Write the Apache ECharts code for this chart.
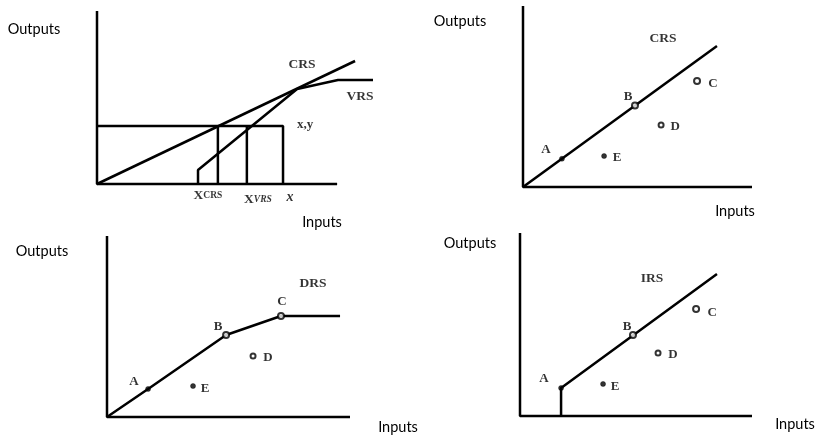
<!DOCTYPE html>
<html>
<head>
<meta charset="utf-8">
<script src="https://cdn.jsdelivr.net/npm/echarts@6/dist/echarts.min.js"></script>
<style>
html,body{margin:0;padding:0;background:#fff;}
#chart{width:815px;height:436px;}
</style>
</head>
<body>
<div id="chart"></div>
<script>
// ---------- Panel 1: CRS vs VRS (input-oriented) ----------
const p1AxisLines = [[0, 100], [0, 0], [87, 0]];
const p1CRS = [[0, 0], [93.5, 71.1]];
const p1VRS = [[36.6, 0], [36.6, 8.1], [72.5, 54.9], [87.3, 60.1], [100, 60.1]];
const p1Box = [[0, 33.5], [67.4, 33.5], [67.4, 0]];
const p1XcrsLine = [[43.8, 0], [43.8, 33.5]];
const p1XvrsLine = [[54.3, 0], [54.3, 33.5]];
const p1Labels = [
  { name: 'CRS', value: [74.3, 68.8] },
  { name: 'VRS', value: [95.3, 50.3] },
  { name: 'x,y', value: [75.4, 34.1] },
  { name: 'XCRS', value: [40.2, -6.6] },
  { name: 'XVRS', value: [58.3, -9.2] },
  { name: 'x', value: [69.9, -7.5] }
];

// ---------- Panel 2: CRS frontier ----------
const p2AxisLines = [[0, 100], [0, 0], [100, 0]];
const p2Frontier = [[0, 0], [84.7, 77.9]];
const p2Points = [['A', 17.0, 15.6], ['B', 48.9, 45.0], ['C', 76.0, 58.6], ['D', 60.3, 34.3], ['E', 35.4, 17.1]];
const p2Title = { name: 'CRS', value: [61.1, 81.8] };

// ---------- Panel 3: DRS frontier ----------
const p3AxisLines = [[0, 100], [0, 0], [100, 0]];
const p3Frontier = [[0, 0], [16.9, 15.5], [49.0, 45.3], [71.6, 55.8], [95.9, 55.8]];
const p3Points = [['A', 16.9, 15.5], ['B', 49.0, 45.3], ['C', 71.6, 55.8], ['D', 60.1, 33.7], ['E', 35.4, 17.1]];
const p3Title = { name: 'DRS', value: [84.8, 74.0] };

// ---------- Panel 4: IRS frontier ----------
const p4AxisLines = [[0, 100], [0, 0], [100, 0]];
const p4Frontier = [[17.7, 0], [17.7, 15.3], [84.9, 77.6]];
const p4Points = [['A', 17.7, 15.3], ['B', 48.7, 44.3], ['C', 75.9, 58.5], ['D', 59.5, 34.4], ['E', 35.8, 17.5]];
const p4Title = { name: 'IRS', value: [56.9, 75.4] };

const axisTitleY = 'Outputs';
const axisTitleX = 'Inputs';

// ---------- styles ----------
const SERIF = "'Liberation Serif', 'DejaVu Serif', serif";
const SANS = "Lato, 'Liberation Sans', sans-serif";
const lineStyle = { color: '#000', width: 2.5 };

const grids = [
  { left: 97, top: 11, width: 276, height: 173 },
  { left: 523, top: 6, width: 229, height: 181 },
  { left: 107, top: 236, width: 243, height: 181 },
  { left: 520, top: 233, width: 232, height: 183 }
];

const xAxes = grids.map((g, i) => ({ type: 'value', gridIndex: i, min: 0, max: 100, show: false }));
const yAxes = grids.map((g, i) => ({ type: 'value', gridIndex: i, min: 0, max: 100, show: false }));

function lineSeries(idx, data) {
  return {
    type: 'line', xAxisIndex: idx, yAxisIndex: idx, data: data,
    symbol: 'none', lineStyle: lineStyle, silent: true, animation: false, clip: false, z: 2
  };
}

function textSeries(idx, items, rich) {
  return {
    type: 'scatter', xAxisIndex: idx, yAxisIndex: idx, symbolSize: 0, clip: false, animation: false, silent: true,
    data: items.map(it => ({ name: it.name, value: it.value })),
    label: {
      show: true, position: 'inside', color: '#000',
      fontFamily: SERIF, fontWeight: 'bold', fontSize: 13.5,
      formatter: p => p.name,
      rich: rich || {}
    }
  };
}

const labelOffsets = {
  1: { A: [-16, -9], B: [-7, -9], C: [16, 3], D: [14, 2], E: [13, 2] },
  2: { A: [-14, -7], B: [-8, -8], C: [1, -14], D: [15, 2], E: [12, 3] },
  3: { A: [-17, -9], B: [-6, -8], C: [16, 4], D: [15, 2], E: [12, 3] }
};
const ringPoints = { B: true, C: true, D: true };

function pointSeries(idx, pts) {
  return {
    type: 'scatter', xAxisIndex: idx, yAxisIndex: idx, animation: false, silent: true, z: 5,
    data: pts.map(p => ({
      name: p[0], value: [p[1], p[2]],
      symbolSize: p[0] === 'D' ? 5 : (ringPoints[p[0]] ? 6 : 5),
      itemStyle: ringPoints[p[0]]
        ? { color: '#fff', borderColor: '#000', borderWidth: 2 }
        : { color: '#000', borderColor: '#000', borderWidth: 0.5 },
      label: { offset: labelOffsets[idx][p[0]] }
    })),
    label: {
      show: true, position: 'inside', color: '#000',
      fontFamily: SERIF, fontWeight: 'bold', fontSize: 13,
      formatter: p => p.name
    }
  };
}

const p1Rich = {
  big: { fontFamily: SERIF, fontWeight: 'bold', fontSize: 13.5, color: '#000' },
  small: { fontFamily: SERIF, fontWeight: 'bold', fontSize: 9.5, color: '#000' },
  smallI: { fontFamily: SERIF, fontWeight: 'bold', fontStyle: 'italic', fontSize: 9.5, color: '#000' },
  xi: { fontFamily: SERIF, fontWeight: 'bold', fontStyle: 'italic', fontSize: 14, color: '#000' },
  reg: { fontFamily: SERIF, fontWeight: 'bold', fontSize: 13, color: '#000' }
};
const p1Text = textSeries(0, p1Labels, p1Rich);
p1Text.label.formatter = p => {
  if (p.name === 'XCRS') return '{big|X}{small|CRS}';
  if (p.name === 'XVRS') return '{big|X}{smallI|VRS}';
  if (p.name === 'x') return '{xi|x}';
  if (p.name === 'x,y') return '{reg|x,y}';
  return p.name;
};

const series = [
  lineSeries(0, p1AxisLines),
  lineSeries(0, p1CRS),
  lineSeries(0, p1VRS),
  lineSeries(0, p1Box),
  lineSeries(0, p1XcrsLine),
  lineSeries(0, p1XvrsLine),
  p1Text,

  lineSeries(1, p2AxisLines),
  lineSeries(1, p2Frontier),
  pointSeries(1, p2Points),
  textSeries(1, [p2Title]),

  lineSeries(2, p3AxisLines),
  lineSeries(2, p3Frontier),
  pointSeries(2, p3Points),
  textSeries(2, [p3Title]),

  lineSeries(3, p4AxisLines),
  lineSeries(3, p4Frontier),
  pointSeries(3, p4Points),
  textSeries(3, [p4Title])
];

const outPos = [[34, 29], [460, 21], [42, 251], [470, 243]];
const inPos = [[322, 222], [735, 211], [398, 427], [795, 424]];
const graphics = [];
outPos.forEach(p => graphics.push({ type: 'text', x: p[0], y: p[1], silent: true,
  style: { text: axisTitleY, font: '14.5px ' + SANS, fill: '#000', textAlign: 'center', textVerticalAlign: 'middle' } }));
inPos.forEach(p => graphics.push({ type: 'text', x: p[0], y: p[1], silent: true,
  style: { text: axisTitleX, font: '14.5px ' + SANS, fill: '#000', textAlign: 'center', textVerticalAlign: 'middle' } }));

const chart = echarts.init(document.getElementById('chart'), null, { renderer: 'canvas' });
chart.setOption({
  backgroundColor: '#fff',
  animation: false,
  grid: grids,
  xAxis: xAxes,
  yAxis: yAxes,
  series: series,
  graphic: graphics
});
</script>
</body>
</html>
